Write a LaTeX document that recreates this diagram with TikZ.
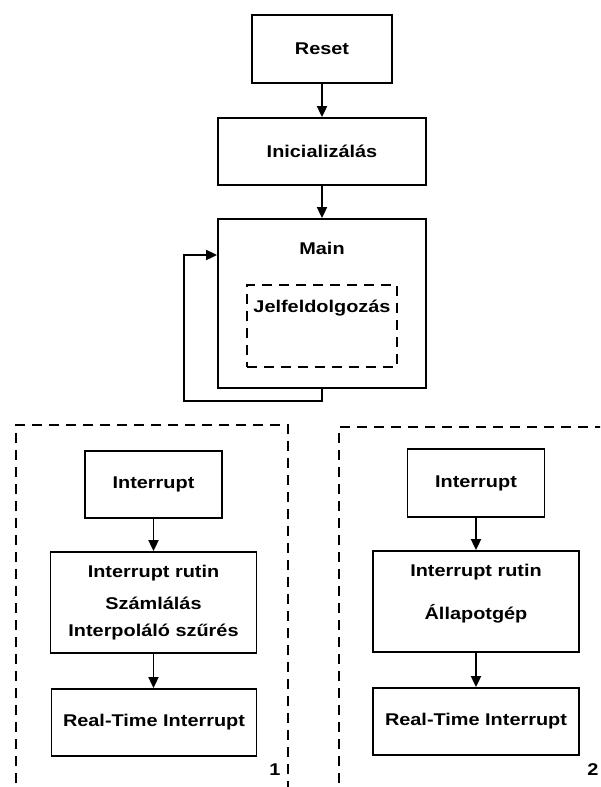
\documentclass[tikz,border=0pt]{standalone}
\usepackage{fontspec}
\setmainfont[FakeStretch=1.17]{Liberation Sans}
\usetikzlibrary{arrows.meta}
\begin{document}
\begin{tikzpicture}[x=1pt,y=-1pt,
  box/.style={draw,line width=1.8pt,minimum width=#1,inner sep=0pt},
  dbox/.style={draw,line width=1.8pt,dash pattern=on 10pt off 7pt,inner sep=0pt},
  txt/.style={font=\bfseries\fontsize{17}{19}\selectfont,inner sep=0pt},
  flow/.style={line width=1.8pt,-{Triangle[width=10pt,length=11pt]}}]
\useasboundingbox (0,0) rectangle (600,787);
\clip (0,0) rectangle (600,787);

% upper chain
\node[box=140pt,minimum height=68pt] (reset) at (322,49) {};
\node[txt] at (reset.center) {Reset};
\node[box=208pt,minimum height=67pt] (init) at (322,151.5) {};
\node[txt] at (init.center) {Inicializálás};
\node[box=208pt,minimum height=169pt] (main) at (322,303.5) {};
\node[txt] (maintitle) at (322,248) {Main};
\node[dbox,minimum width=150pt,minimum height=82pt] (jel) at (322,326) {};
\node[txt] (jeltext) at (322,308) {Jelfeldolgozás};

\draw[flow] (reset) -- (init);
\draw[flow] (init) -- (main);
\coordinate (loopa) at (322,401);
\coordinate (loopb) at (184,401);
\coordinate (loopc) at (184,255);
\draw[flow] (main.south) -- (loopa) -- (loopb) -- (loopc) -- (main.west |- loopc);

% interrupt group 1
\draw[line width=1.8pt,dash pattern=on 10pt off 7pt] (16,800) -- (16,425) -- (288,425) -- (288,800);
\node[box=137pt,minimum height=67pt] (inta) at (153.5,484.5) {};
\node[txt] at (inta.center) {Interrupt};
\node[box=206pt,minimum height=101pt] (ruta) at (153.5,602.5) {};
\node[txt] at (153.5,573) {Interrupt rutin};
\node[txt] at (153.5,603) {Számlálás};
\node[txt] at (153.5,632) {Interpoláló szűrés};
\node[box=205pt,minimum height=67pt] (rta) at (154,722.5) {};
\node[txt] at (rta.center) {Real-Time Interrupt};
\node[txt] (numa) at (275,770) {1};
\draw[flow] (inta) -- (ruta);
\draw[flow] (ruta) -- (ruta.south |- rta.north);

% interrupt group 2
\draw[line width=1.8pt,dash pattern=on 10pt off 7pt] (339,800) -- (339,427) -- (620,427);
\node[box=137pt,minimum height=68pt] (intb) at (476,483) {};
\node[txt] at (intb.center) {Interrupt};
\node[box=206pt,minimum height=101pt] (rutb) at (476,601.5) {};
\node[txt] at (476,572) {Interrupt rutin};
\node[txt] at (476,614) {Állapotgép};
\node[box=206pt,minimum height=67pt] (rtb) at (476,721.5) {};
\node[txt] at (rtb.center) {Real-Time Interrupt};
\node[txt] (numb) at (593,770) {2};
\draw[flow] (intb) -- (rutb);
\draw[flow] (rutb) -- (rtb);
\end{tikzpicture}
\end{document}
